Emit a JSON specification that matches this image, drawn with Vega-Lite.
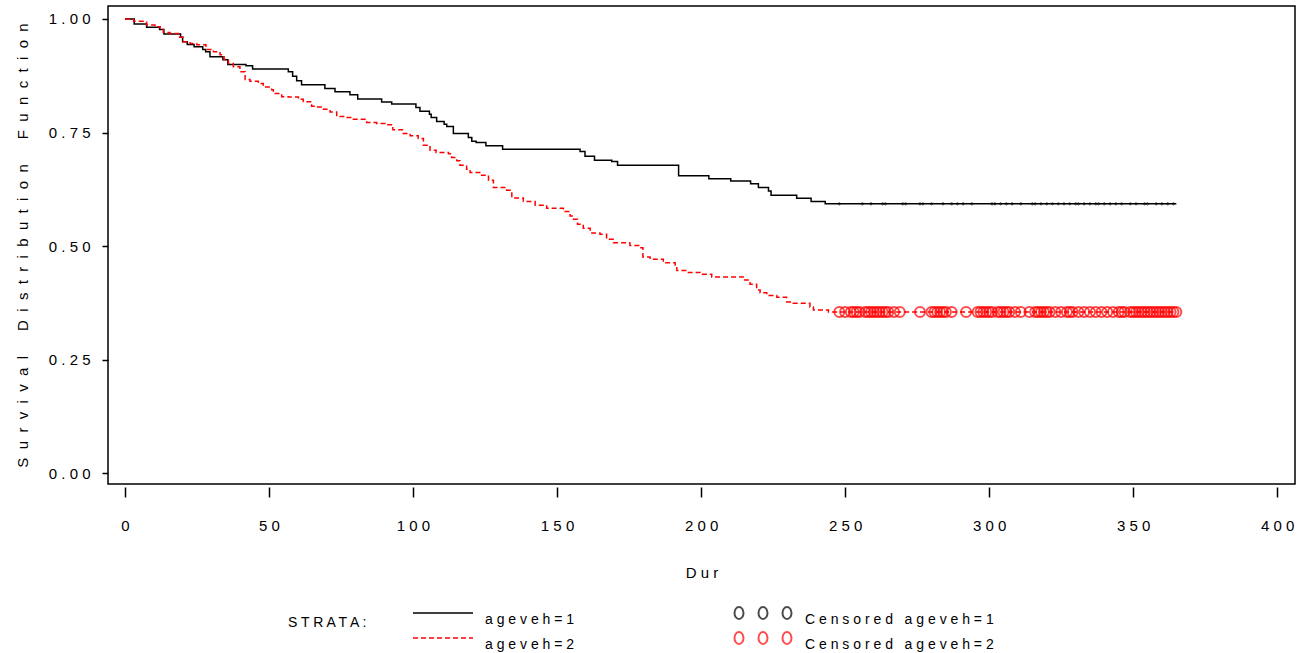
{
  "$schema": "https://vega.github.io/schema/vega-lite/v6.json",
  "width": 1187,
  "height": 478,
  "autosize": {"type": "none"},
  "padding": {"left": 108, "top": 6, "right": 6, "bottom": 169},
  "background": "white",
  "config": {
    "font": "Liberation Sans",
    "view": {"stroke": "#000", "strokeWidth": 1.5},
    "axis": {"grid": false, "domain": false, "tickColor": "#000", "tickWidth": 1.5, "labelColor": "#000", "titleColor": "#000", "labelFont": "Liberation Sans", "labelFontSize": 15, "titleFont": "Liberation Sans", "titleFontSize": 15, "titleFontWeight": "normal"},
    "legend": {"padding": 0, "labelFont": "Liberation Sans", "labelFontSize": 14, "labelColor": "#000", "titleFont": "Liberation Sans", "titleFontSize": 14, "titleFontWeight": "normal", "titleColor": "#000", "labelLimit": 400}
  },
  "datasets": {
    "curves": [
      {"strata": "ageveh=1", "dur": 0, "surv": 1.0},
      {"strata": "ageveh=1", "dur": 3.2, "surv": 0.989},
      {"strata": "ageveh=1", "dur": 7.5, "surv": 0.982},
      {"strata": "ageveh=1", "dur": 12, "surv": 0.977},
      {"strata": "ageveh=1", "dur": 13.5, "surv": 0.967},
      {"strata": "ageveh=1", "dur": 19.3, "surv": 0.96},
      {"strata": "ageveh=1", "dur": 20, "surv": 0.95},
      {"strata": "ageveh=1", "dur": 21.6, "surv": 0.944},
      {"strata": "ageveh=1", "dur": 24, "surv": 0.939},
      {"strata": "ageveh=1", "dur": 27, "surv": 0.933},
      {"strata": "ageveh=1", "dur": 28, "surv": 0.928},
      {"strata": "ageveh=1", "dur": 29.5, "surv": 0.917},
      {"strata": "ageveh=1", "dur": 34, "surv": 0.91},
      {"strata": "ageveh=1", "dur": 35.7, "surv": 0.9},
      {"strata": "ageveh=1", "dur": 42, "surv": 0.897},
      {"strata": "ageveh=1", "dur": 44.3, "surv": 0.89},
      {"strata": "ageveh=1", "dur": 56.7, "surv": 0.884},
      {"strata": "ageveh=1", "dur": 58.2, "surv": 0.874},
      {"strata": "ageveh=1", "dur": 59.6, "surv": 0.864},
      {"strata": "ageveh=1", "dur": 61.3, "surv": 0.855},
      {"strata": "ageveh=1", "dur": 69.4, "surv": 0.847},
      {"strata": "ageveh=1", "dur": 72.9, "surv": 0.84},
      {"strata": "ageveh=1", "dur": 78.1, "surv": 0.833},
      {"strata": "ageveh=1", "dur": 80.8, "surv": 0.824},
      {"strata": "ageveh=1", "dur": 89.1, "surv": 0.817},
      {"strata": "ageveh=1", "dur": 92.6, "surv": 0.813},
      {"strata": "ageveh=1", "dur": 101, "surv": 0.805},
      {"strata": "ageveh=1", "dur": 102.4, "surv": 0.797},
      {"strata": "ageveh=1", "dur": 105.7, "surv": 0.79},
      {"strata": "ageveh=1", "dur": 106.3, "surv": 0.783},
      {"strata": "ageveh=1", "dur": 108.2, "surv": 0.774},
      {"strata": "ageveh=1", "dur": 110.8, "surv": 0.768},
      {"strata": "ageveh=1", "dur": 111.7, "surv": 0.763},
      {"strata": "ageveh=1", "dur": 114, "surv": 0.748},
      {"strata": "ageveh=1", "dur": 119.2, "surv": 0.739},
      {"strata": "ageveh=1", "dur": 120.4, "surv": 0.731},
      {"strata": "ageveh=1", "dur": 121.9, "surv": 0.728},
      {"strata": "ageveh=1", "dur": 125.3, "surv": 0.721},
      {"strata": "ageveh=1", "dur": 131.1, "surv": 0.713},
      {"strata": "ageveh=1", "dur": 158, "surv": 0.708},
      {"strata": "ageveh=1", "dur": 159.7, "surv": 0.698},
      {"strata": "ageveh=1", "dur": 163, "surv": 0.689},
      {"strata": "ageveh=1", "dur": 169, "surv": 0.686},
      {"strata": "ageveh=1", "dur": 171, "surv": 0.678},
      {"strata": "ageveh=1", "dur": 192.2, "surv": 0.655},
      {"strata": "ageveh=1", "dur": 202.7, "surv": 0.648},
      {"strata": "ageveh=1", "dur": 210.3, "surv": 0.643},
      {"strata": "ageveh=1", "dur": 217.2, "surv": 0.637},
      {"strata": "ageveh=1", "dur": 219.9, "surv": 0.629},
      {"strata": "ageveh=1", "dur": 223.4, "surv": 0.621},
      {"strata": "ageveh=1", "dur": 224.3, "surv": 0.612},
      {"strata": "ageveh=1", "dur": 233.2, "surv": 0.605},
      {"strata": "ageveh=1", "dur": 238.2, "surv": 0.598},
      {"strata": "ageveh=1", "dur": 243.1, "surv": 0.593},
      {"strata": "ageveh=1", "dur": 365, "surv": 0.593},
      {"strata": "ageveh=2", "dur": 0, "surv": 1.0},
      {"strata": "ageveh=2", "dur": 3, "surv": 0.995},
      {"strata": "ageveh=2", "dur": 7.5, "surv": 0.987},
      {"strata": "ageveh=2", "dur": 10.4, "surv": 0.983},
      {"strata": "ageveh=2", "dur": 12.2, "surv": 0.977},
      {"strata": "ageveh=2", "dur": 13.3, "surv": 0.97},
      {"strata": "ageveh=2", "dur": 15.6, "surv": 0.968},
      {"strata": "ageveh=2", "dur": 18.5, "surv": 0.96},
      {"strata": "ageveh=2", "dur": 20.2, "surv": 0.95},
      {"strata": "ageveh=2", "dur": 22.6, "surv": 0.946},
      {"strata": "ageveh=2", "dur": 24.9, "surv": 0.943},
      {"strata": "ageveh=2", "dur": 28.1, "surv": 0.933},
      {"strata": "ageveh=2", "dur": 30.7, "surv": 0.928},
      {"strata": "ageveh=2", "dur": 33, "surv": 0.921},
      {"strata": "ageveh=2", "dur": 34.4, "surv": 0.911},
      {"strata": "ageveh=2", "dur": 35.9, "surv": 0.902},
      {"strata": "ageveh=2", "dur": 37.6, "surv": 0.895},
      {"strata": "ageveh=2", "dur": 39.9, "surv": 0.884},
      {"strata": "ageveh=2", "dur": 41.7, "surv": 0.867},
      {"strata": "ageveh=2", "dur": 43.4, "surv": 0.863},
      {"strata": "ageveh=2", "dur": 46.3, "surv": 0.858},
      {"strata": "ageveh=2", "dur": 48, "surv": 0.85},
      {"strata": "ageveh=2", "dur": 50.9, "surv": 0.844},
      {"strata": "ageveh=2", "dur": 51.5, "surv": 0.836},
      {"strata": "ageveh=2", "dur": 54.4, "surv": 0.829},
      {"strata": "ageveh=2", "dur": 56.7, "surv": 0.828},
      {"strata": "ageveh=2", "dur": 60.2, "surv": 0.823},
      {"strata": "ageveh=2", "dur": 61.9, "surv": 0.818},
      {"strata": "ageveh=2", "dur": 64.8, "surv": 0.808},
      {"strata": "ageveh=2", "dur": 66.6, "surv": 0.806},
      {"strata": "ageveh=2", "dur": 68.9, "surv": 0.801},
      {"strata": "ageveh=2", "dur": 71.2, "surv": 0.795},
      {"strata": "ageveh=2", "dur": 73.5, "surv": 0.785},
      {"strata": "ageveh=2", "dur": 76.4, "surv": 0.783},
      {"strata": "ageveh=2", "dur": 78.7, "surv": 0.779},
      {"strata": "ageveh=2", "dur": 83.9, "surv": 0.772},
      {"strata": "ageveh=2", "dur": 87.4, "surv": 0.77},
      {"strata": "ageveh=2", "dur": 90.9, "surv": 0.767},
      {"strata": "ageveh=2", "dur": 93, "surv": 0.756},
      {"strata": "ageveh=2", "dur": 96.6, "surv": 0.748},
      {"strata": "ageveh=2", "dur": 99, "surv": 0.743},
      {"strata": "ageveh=2", "dur": 101.8, "surv": 0.737},
      {"strata": "ageveh=2", "dur": 103.6, "surv": 0.722},
      {"strata": "ageveh=2", "dur": 105.9, "surv": 0.711},
      {"strata": "ageveh=2", "dur": 108, "surv": 0.706},
      {"strata": "ageveh=2", "dur": 112.3, "surv": 0.703},
      {"strata": "ageveh=2", "dur": 113.4, "surv": 0.695},
      {"strata": "ageveh=2", "dur": 115.2, "surv": 0.688},
      {"strata": "ageveh=2", "dur": 116.3, "surv": 0.678},
      {"strata": "ageveh=2", "dur": 118.6, "surv": 0.669},
      {"strata": "ageveh=2", "dur": 119.8, "surv": 0.662},
      {"strata": "ageveh=2", "dur": 123.8, "surv": 0.656},
      {"strata": "ageveh=2", "dur": 126.2, "surv": 0.645},
      {"strata": "ageveh=2", "dur": 127.9, "surv": 0.629},
      {"strata": "ageveh=2", "dur": 132.5, "surv": 0.623},
      {"strata": "ageveh=2", "dur": 134.3, "surv": 0.606},
      {"strata": "ageveh=2", "dur": 138.3, "surv": 0.598},
      {"strata": "ageveh=2", "dur": 142.4, "surv": 0.59},
      {"strata": "ageveh=2", "dur": 146.4, "surv": 0.583},
      {"strata": "ageveh=2", "dur": 152.2, "surv": 0.576},
      {"strata": "ageveh=2", "dur": 154.5, "surv": 0.566},
      {"strata": "ageveh=2", "dur": 155.7, "surv": 0.559},
      {"strata": "ageveh=2", "dur": 157.1, "surv": 0.548},
      {"strata": "ageveh=2", "dur": 159.1, "surv": 0.539},
      {"strata": "ageveh=2", "dur": 161.5, "surv": 0.529},
      {"strata": "ageveh=2", "dur": 164.9, "surv": 0.526},
      {"strata": "ageveh=2", "dur": 167.2, "surv": 0.515},
      {"strata": "ageveh=2", "dur": 169.5, "surv": 0.507},
      {"strata": "ageveh=2", "dur": 175.3, "surv": 0.501},
      {"strata": "ageveh=2", "dur": 178.8, "surv": 0.496},
      {"strata": "ageveh=2", "dur": 179.8, "surv": 0.476},
      {"strata": "ageveh=2", "dur": 182.3, "surv": 0.471},
      {"strata": "ageveh=2", "dur": 186.9, "surv": 0.463},
      {"strata": "ageveh=2", "dur": 191, "surv": 0.458},
      {"strata": "ageveh=2", "dur": 191.6, "surv": 0.446},
      {"strata": "ageveh=2", "dur": 195, "surv": 0.442},
      {"strata": "ageveh=2", "dur": 199.7, "surv": 0.438},
      {"strata": "ageveh=2", "dur": 203.7, "surv": 0.432},
      {"strata": "ageveh=2", "dur": 214.7, "surv": 0.425},
      {"strata": "ageveh=2", "dur": 217, "surv": 0.416},
      {"strata": "ageveh=2", "dur": 219.3, "surv": 0.403},
      {"strata": "ageveh=2", "dur": 220.5, "surv": 0.397},
      {"strata": "ageveh=2", "dur": 222.8, "surv": 0.391},
      {"strata": "ageveh=2", "dur": 226.3, "surv": 0.387},
      {"strata": "ageveh=2", "dur": 229.7, "surv": 0.377},
      {"strata": "ageveh=2", "dur": 232, "surv": 0.374},
      {"strata": "ageveh=2", "dur": 237.8, "surv": 0.366},
      {"strata": "ageveh=2", "dur": 239, "surv": 0.359},
      {"strata": "ageveh=2", "dur": 244.2, "surv": 0.355},
      {"strata": "ageveh=2", "dur": 365, "surv": 0.355}
    ],
    "cens1": [
      {"grp": "Censored ageveh=1", "dur": 248, "surv": 0.593},
      {"grp": "Censored ageveh=1", "dur": 256, "surv": 0.593},
      {"grp": "Censored ageveh=1", "dur": 259, "surv": 0.593},
      {"grp": "Censored ageveh=1", "dur": 263, "surv": 0.593},
      {"grp": "Censored ageveh=1", "dur": 264, "surv": 0.593},
      {"grp": "Censored ageveh=1", "dur": 270, "surv": 0.593},
      {"grp": "Censored ageveh=1", "dur": 271, "surv": 0.593},
      {"grp": "Censored ageveh=1", "dur": 276, "surv": 0.593},
      {"grp": "Censored ageveh=1", "dur": 277, "surv": 0.593},
      {"grp": "Censored ageveh=1", "dur": 280, "surv": 0.593},
      {"grp": "Censored ageveh=1", "dur": 284, "surv": 0.593},
      {"grp": "Censored ageveh=1", "dur": 287, "surv": 0.593},
      {"grp": "Censored ageveh=1", "dur": 289, "surv": 0.593},
      {"grp": "Censored ageveh=1", "dur": 291, "surv": 0.593},
      {"grp": "Censored ageveh=1", "dur": 294, "surv": 0.593},
      {"grp": "Censored ageveh=1", "dur": 301, "surv": 0.593},
      {"grp": "Censored ageveh=1", "dur": 302, "surv": 0.593},
      {"grp": "Censored ageveh=1", "dur": 304, "surv": 0.593},
      {"grp": "Censored ageveh=1", "dur": 306, "surv": 0.593},
      {"grp": "Censored ageveh=1", "dur": 308, "surv": 0.593},
      {"grp": "Censored ageveh=1", "dur": 311, "surv": 0.593},
      {"grp": "Censored ageveh=1", "dur": 315, "surv": 0.593},
      {"grp": "Censored ageveh=1", "dur": 316, "surv": 0.593},
      {"grp": "Censored ageveh=1", "dur": 318, "surv": 0.593},
      {"grp": "Censored ageveh=1", "dur": 320, "surv": 0.593},
      {"grp": "Censored ageveh=1", "dur": 322, "surv": 0.593},
      {"grp": "Censored ageveh=1", "dur": 324, "surv": 0.593},
      {"grp": "Censored ageveh=1", "dur": 326, "surv": 0.593},
      {"grp": "Censored ageveh=1", "dur": 328, "surv": 0.593},
      {"grp": "Censored ageveh=1", "dur": 330, "surv": 0.593},
      {"grp": "Censored ageveh=1", "dur": 331, "surv": 0.593},
      {"grp": "Censored ageveh=1", "dur": 333, "surv": 0.593},
      {"grp": "Censored ageveh=1", "dur": 335, "surv": 0.593},
      {"grp": "Censored ageveh=1", "dur": 337, "surv": 0.593},
      {"grp": "Censored ageveh=1", "dur": 338, "surv": 0.593},
      {"grp": "Censored ageveh=1", "dur": 340, "surv": 0.593},
      {"grp": "Censored ageveh=1", "dur": 342, "surv": 0.593},
      {"grp": "Censored ageveh=1", "dur": 344, "surv": 0.593},
      {"grp": "Censored ageveh=1", "dur": 346, "surv": 0.593},
      {"grp": "Censored ageveh=1", "dur": 349, "surv": 0.593},
      {"grp": "Censored ageveh=1", "dur": 351, "surv": 0.593},
      {"grp": "Censored ageveh=1", "dur": 354, "surv": 0.593},
      {"grp": "Censored ageveh=1", "dur": 355, "surv": 0.593},
      {"grp": "Censored ageveh=1", "dur": 358, "surv": 0.593},
      {"grp": "Censored ageveh=1", "dur": 360, "surv": 0.593},
      {"grp": "Censored ageveh=1", "dur": 362, "surv": 0.593},
      {"grp": "Censored ageveh=1", "dur": 364, "surv": 0.593}
    ],
    "cens2": [
      {"grp": "Censored ageveh=2", "dur": 248, "surv": 0.355},
      {"grp": "Censored ageveh=2", "dur": 250, "surv": 0.355},
      {"grp": "Censored ageveh=2", "dur": 252, "surv": 0.355},
      {"grp": "Censored ageveh=2", "dur": 253, "surv": 0.355},
      {"grp": "Censored ageveh=2", "dur": 254, "surv": 0.355},
      {"grp": "Censored ageveh=2", "dur": 255, "surv": 0.355},
      {"grp": "Censored ageveh=2", "dur": 257, "surv": 0.355},
      {"grp": "Censored ageveh=2", "dur": 258, "surv": 0.355},
      {"grp": "Censored ageveh=2", "dur": 259, "surv": 0.355},
      {"grp": "Censored ageveh=2", "dur": 260, "surv": 0.355},
      {"grp": "Censored ageveh=2", "dur": 261, "surv": 0.355},
      {"grp": "Censored ageveh=2", "dur": 262, "surv": 0.355},
      {"grp": "Censored ageveh=2", "dur": 263, "surv": 0.355},
      {"grp": "Censored ageveh=2", "dur": 264, "surv": 0.355},
      {"grp": "Censored ageveh=2", "dur": 265, "surv": 0.355},
      {"grp": "Censored ageveh=2", "dur": 267, "surv": 0.355},
      {"grp": "Censored ageveh=2", "dur": 269, "surv": 0.355},
      {"grp": "Censored ageveh=2", "dur": 276, "surv": 0.355},
      {"grp": "Censored ageveh=2", "dur": 280, "surv": 0.355},
      {"grp": "Censored ageveh=2", "dur": 281, "surv": 0.355},
      {"grp": "Censored ageveh=2", "dur": 282, "surv": 0.355},
      {"grp": "Censored ageveh=2", "dur": 283, "surv": 0.355},
      {"grp": "Censored ageveh=2", "dur": 284, "surv": 0.355},
      {"grp": "Censored ageveh=2", "dur": 285, "surv": 0.355},
      {"grp": "Censored ageveh=2", "dur": 287, "surv": 0.355},
      {"grp": "Censored ageveh=2", "dur": 292, "surv": 0.355},
      {"grp": "Censored ageveh=2", "dur": 296, "surv": 0.355},
      {"grp": "Censored ageveh=2", "dur": 297, "surv": 0.355},
      {"grp": "Censored ageveh=2", "dur": 298, "surv": 0.355},
      {"grp": "Censored ageveh=2", "dur": 299, "surv": 0.355},
      {"grp": "Censored ageveh=2", "dur": 300, "surv": 0.355},
      {"grp": "Censored ageveh=2", "dur": 301, "surv": 0.355},
      {"grp": "Censored ageveh=2", "dur": 303, "surv": 0.355},
      {"grp": "Censored ageveh=2", "dur": 304, "surv": 0.355},
      {"grp": "Censored ageveh=2", "dur": 305, "surv": 0.355},
      {"grp": "Censored ageveh=2", "dur": 306, "surv": 0.355},
      {"grp": "Censored ageveh=2", "dur": 307, "surv": 0.355},
      {"grp": "Censored ageveh=2", "dur": 309, "surv": 0.355},
      {"grp": "Censored ageveh=2", "dur": 311, "surv": 0.355},
      {"grp": "Censored ageveh=2", "dur": 314, "surv": 0.355},
      {"grp": "Censored ageveh=2", "dur": 316, "surv": 0.355},
      {"grp": "Censored ageveh=2", "dur": 317, "surv": 0.355},
      {"grp": "Censored ageveh=2", "dur": 318, "surv": 0.355},
      {"grp": "Censored ageveh=2", "dur": 319, "surv": 0.355},
      {"grp": "Censored ageveh=2", "dur": 320, "surv": 0.355},
      {"grp": "Censored ageveh=2", "dur": 321, "surv": 0.355},
      {"grp": "Censored ageveh=2", "dur": 323, "surv": 0.355},
      {"grp": "Censored ageveh=2", "dur": 325, "surv": 0.355},
      {"grp": "Censored ageveh=2", "dur": 327, "surv": 0.355},
      {"grp": "Censored ageveh=2", "dur": 328, "surv": 0.355},
      {"grp": "Censored ageveh=2", "dur": 329, "surv": 0.355},
      {"grp": "Censored ageveh=2", "dur": 331, "surv": 0.355},
      {"grp": "Censored ageveh=2", "dur": 333, "surv": 0.355},
      {"grp": "Censored ageveh=2", "dur": 335, "surv": 0.355},
      {"grp": "Censored ageveh=2", "dur": 337, "surv": 0.355},
      {"grp": "Censored ageveh=2", "dur": 339, "surv": 0.355},
      {"grp": "Censored ageveh=2", "dur": 341, "surv": 0.355},
      {"grp": "Censored ageveh=2", "dur": 343, "surv": 0.355},
      {"grp": "Censored ageveh=2", "dur": 345, "surv": 0.355},
      {"grp": "Censored ageveh=2", "dur": 346, "surv": 0.355},
      {"grp": "Censored ageveh=2", "dur": 347, "surv": 0.355},
      {"grp": "Censored ageveh=2", "dur": 349, "surv": 0.355},
      {"grp": "Censored ageveh=2", "dur": 350, "surv": 0.355},
      {"grp": "Censored ageveh=2", "dur": 351, "surv": 0.355},
      {"grp": "Censored ageveh=2", "dur": 352, "surv": 0.355},
      {"grp": "Censored ageveh=2", "dur": 353, "surv": 0.355},
      {"grp": "Censored ageveh=2", "dur": 354, "surv": 0.355},
      {"grp": "Censored ageveh=2", "dur": 355, "surv": 0.355},
      {"grp": "Censored ageveh=2", "dur": 356, "surv": 0.355},
      {"grp": "Censored ageveh=2", "dur": 357, "surv": 0.355},
      {"grp": "Censored ageveh=2", "dur": 358, "surv": 0.355},
      {"grp": "Censored ageveh=2", "dur": 359, "surv": 0.355},
      {"grp": "Censored ageveh=2", "dur": 360, "surv": 0.355},
      {"grp": "Censored ageveh=2", "dur": 361, "surv": 0.355},
      {"grp": "Censored ageveh=2", "dur": 362, "surv": 0.355},
      {"grp": "Censored ageveh=2", "dur": 363, "surv": 0.355},
      {"grp": "Censored ageveh=2", "dur": 364, "surv": 0.355},
      {"grp": "Censored ageveh=2", "dur": 365, "surv": 0.355}
    ]
  },
  "encoding": {
    "x": {
      "field": "dur", "type": "quantitative",
      "scale": {"domain": [-5.9, 406.2], "nice": false, "zero": false},
      "title": "D u r",
      "axis": {"values": [0, 50, 100, 150, 200, 250, 300, 350, 400], "offset": 3, "tickSize": 10, "labelPadding": 21, "titlePadding": 32, "labelExpr": "join(split(datum.label, ''), ' ')", "labelFlush": false}
    },
    "y": {
      "field": "surv", "type": "quantitative",
      "scale": {"domain": [-0.024, 1.0286], "nice": false, "zero": false},
      "title": "S\u00a0\u00a0u\u00a0\u00a0r\u00a0\u00a0v\u00a0\u00a0i\u00a0\u00a0v\u00a0\u00a0a\u00a0\u00a0l\u00a0\u00a0\u00a0\u00a0\u00a0\u00a0D\u00a0\u00a0i\u00a0\u00a0s\u00a0\u00a0t\u00a0\u00a0r\u00a0\u00a0i\u00a0\u00a0b\u00a0\u00a0u\u00a0\u00a0t\u00a0\u00a0i\u00a0\u00a0o\u00a0\u00a0n\u00a0\u00a0\u00a0\u00a0\u00a0\u00a0F\u00a0\u00a0u\u00a0\u00a0n\u00a0\u00a0c\u00a0\u00a0t\u00a0\u00a0i\u00a0\u00a0o\u00a0\u00a0n",
      "axis": {"values": [0, 0.25, 0.5, 0.75, 1], "format": ".2f", "tickSize": 6, "labelPadding": 12, "titlePadding": 18, "labelExpr": "join(split(datum.label, ''), ' ')", "labelFlush": false}
    }
  },
  "layer": [
    {
      "data": {"name": "curves"},
      "mark": {"type": "line", "interpolate": "step-after", "strokeWidth": 1.5},
      "encoding": {
        "color": {
          "field": "strata", "type": "nominal",
          "scale": {"domain": ["ageveh=1", "ageveh=2"], "range": ["#000000", "#ff0000"]},
          "legend": {"title": "S T R A T A :", "orient": "none", "legendX": 180, "legendY": 596, "titleOrient": "left", "titlePadding": 61, "titleAnchor": "middle", "titleBaseline": "alphabetic", "symbolType": "M -3 0 L 3 0", "symbolSize": 400, "symbolStrokeWidth": 1.5, "symbolFillColor": "transparent", "rowPadding": -1, "labelOffset": 31, "labelBaseline": "top", "labelExpr": "join(split(datum.label, ''), '\u00a0')"}
        },
        "strokeDash": {
          "field": "strata", "type": "nominal",
          "scale": {"domain": ["ageveh=1", "ageveh=2"], "range": [[1, 0], [5, 3]]}
        }
      }
    },
    {
      "data": {"name": "cens1"},
      "mark": {"type": "point", "shape": "circle", "filled": false, "size": 5, "strokeWidth": 1},
      "encoding": {
        "stroke": {
          "field": "grp", "type": "nominal",
          "scale": {"domain": ["Censored ageveh=1", "Censored ageveh=2"], "range": ["#000000", "#ff0000"]},
          "legend": {"title": null, "orient": "none", "legendX": 644, "legendY": 596, "symbolType": "M -2.85 0 A 0.45 0.6 0 1 1 -1.95 0 A 0.45 0.6 0 1 1 -2.85 0 Z M -0.45 0 A 0.45 0.6 0 1 1 0.45 0 A 0.45 0.6 0 1 1 -0.45 0 Z M 1.95 0 A 0.45 0.6 0 1 1 2.85 0 A 0.45 0.6 0 1 1 1.95 0 Z", "symbolSize": 400, "symbolStrokeWidth": 2, "symbolFillColor": "transparent", "rowPadding": -1, "labelOffset": 31, "labelBaseline": "top", "labelExpr": "join(split(datum.label, ''), '\u00a0')"}
        }
      }
    },
    {
      "data": {"name": "cens2"},
      "mark": {"type": "point", "shape": "circle", "filled": false, "size": 100, "strokeWidth": 2},
      "encoding": {
        "stroke": {"field": "grp", "type": "nominal"}
      }
    }
  ]
}
